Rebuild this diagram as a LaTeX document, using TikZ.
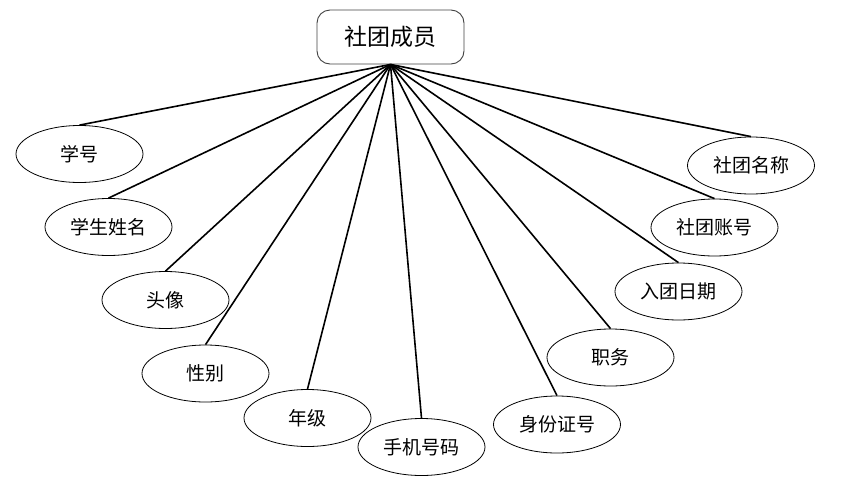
\documentclass[tikz,border=0pt]{standalone}
\usepackage{fontspec}
\newfontfamily\cjk{Noto Sans CJK SC}
\usetikzlibrary{shapes.geometric}
\begin{document}
\begin{tikzpicture}[x=1pt,y=-1pt,
  attr/.style={ellipse,draw=black,line width=0.8pt,minimum width=127pt,minimum height=57pt,inner sep=0pt,font=\cjk\fontsize{19}{19}\selectfont},
  ent/.style={rectangle,rounded corners=13pt,draw=black!75,line width=0.9pt,minimum width=147pt,minimum height=54pt,inner sep=0pt,font=\cjk\fontsize{23}{23}\selectfont},
  link/.style={line width=1.6pt}]
\useasboundingbox (0,0) rectangle (855,493);
\node[ent] (top) at (390.5,37) {社团成员};
\node[attr] (a1) at (79.5,154) {学号};
\node[attr] (a2) at (108.5,227) {学生姓名};
\node[attr] (a3) at (165.5,300) {头像};
\node[attr] (a4) at (205.5,373.5) {性别};
\node[attr] (a5) at (307.5,418) {年级};
\node[attr] (a6) at (421.5,447) {手机号码};
\node[attr] (a7) at (557,424.5) {身份证号};
\node[attr] (a8) at (610.5,357.5) {职务};
\node[attr] (a9) at (678.5,291.5) {入团日期};
\node[attr] (a10) at (714.5,227.5) {社团账号};
\node[attr] (a11) at (751,165.5) {社团名称};
\foreach \n in {a1,a2,a3,a4,a5,a6,a7,a8,a9,a10,a11}
  \draw[link] (top.south) -- (\n.north);
\end{tikzpicture}
\end{document}
